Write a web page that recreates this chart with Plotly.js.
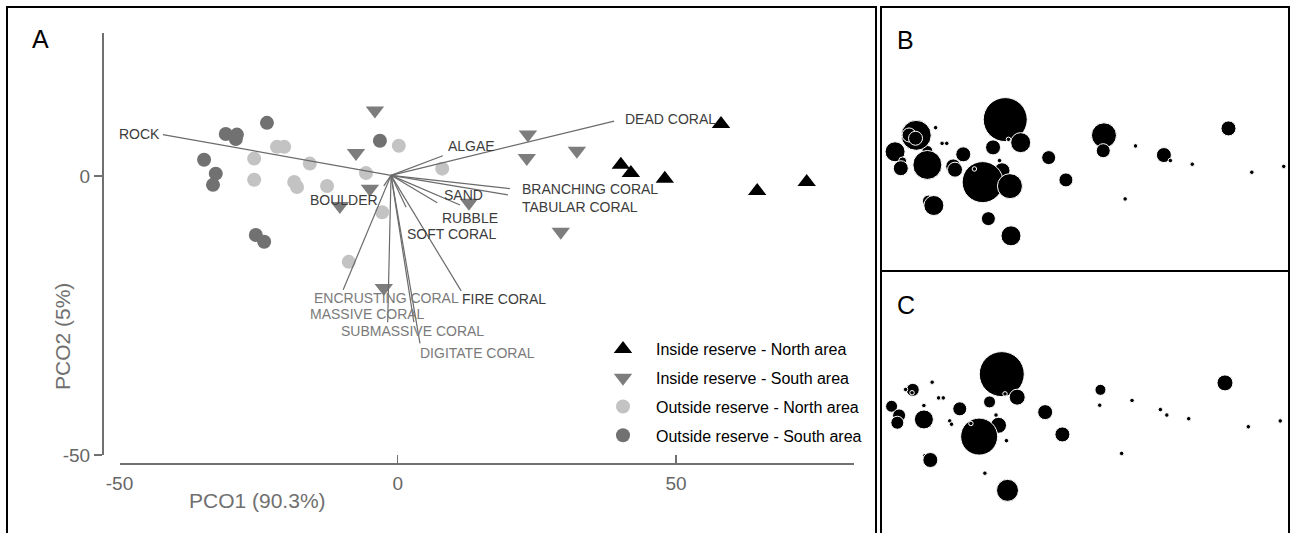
<!DOCTYPE html>
<html><head><meta charset="utf-8">
<script src="https://cdn.plot.ly/plotly-3.0.1.min.js"></script>
<style>html,body{margin:0;padding:0;background:#fff}</style>
</head><body><div id="chart" style="width:1290px;height:533px"></div>
<script>
// ---------- DATA ----------
const groupNames = ['Inside reserve - North area','Inside reserve - South area','Outside reserve - North area','Outside reserve - South area'];

// Inside reserve - North area (PCO1, PCO2) + bubble sizes for panels B and C
const inNorthX = [58.1, 40.1, 41.9, 48.0, 64.6, 73.5];
const inNorthY = [9.3, 2.0, 0.5, -0.5, -2.7, -1.1];
const inNorthB = [15, 15, 4.5, 4.5, 4.5, 4.5];
const inNorthC = [16, 4.5, 4.5, 4.5, 4.5, 4.5];

// Inside reserve - South area
const inSouthX = [-4.1, -7.5, -5.0, -10.4, 23.4, 23.2, 32.2, 12.8, 29.3, -2.5];
const inSouthY = [11.7, 4.1, -2.3, -5.4, 7.4, 3.2, 4.5, -4.8, -10.0, -20.1];
const inSouthB = [44, 15, 16, 41, 25, 14, 4.5, 14, 4.5, 20];
const inSouthC = [45, 12, 16, 37, 11, 4.5, 4.5, 15, 4.5, 22];

// Outside reserve - North area
const outNorthX = [-25.8, -21.7, -20.4, -15.8, -25.8, -18.6, -18.1, -12.7, -5.7, 0.2, -2.8, -8.8, 8.0];
const outNorthY = [3.1, 5.2, 5.2, 2.2, -0.7, -1.1, -2.0, -1.8, 0.5, 5.4, -6.5, -15.4, 1.3];
const outNorthB = [11, 4.5, 4.5, 15, 29, 15, 15, 4.5, 4.5, 20, 25, 14, 14];
const outNorthC = [4.5, 4.5, 4.5, 14, 19, 4.5, 4.5, 4.5, 4.5, 16, 4.5, 4.5, 15];

// Outside reserve - South area
const outSouthX = [-28.9, -23.5, -30.9, -29.1, -34.8, -32.7, -33.2, -25.5, -24.0, -3.2];
const outSouthY = [7.4, 9.5, 7.5, 6.6, 2.9, 0.4, -1.6, -10.6, -11.8, 6.3];
const outSouthB = [30, 4.5, 14, 14, 20, 8, 15, 12, 20, 4.5];
const outSouthC = [13, 4.5, 4.5, 4.5, 12, 13, 13, 4.5, 15, 4.5];

// Biplot vectors
const vectorOrigin = [-1.2, 0.1];
const vectorNames = ['ROCK','DEAD CORAL','ALGAE','BRANCHING CORAL','TABULAR CORAL','SAND','RUBBLE','SOFT CORAL','BOULDER','FIRE CORAL','ENCRUSTING CORAL','MASSIVE CORAL','SUBMASSIVE CORAL','DIGITATE CORAL'];
const vectorX = [-42.2, 38.9, 8.1, 20.2, 19.8, 7.1, 11.2, 1.5, -2.5, 11.4, -9.8, -1.8, 2.9, 4.0];
const vectorY = [7.4, 9.8, 3.6, -2.3, -3.4, -4.8, -5.2, -5.6, -1.8, -20.6, -20.4, -26.2, -26.2, -30.0];

// Axis ticks and titles
const xTickVals = [-50, 0, 50];
const xTickText = ['-50', '0', '50'];
const yTickVals = [-50, 0];
const yTickText = ['-50', '0'];
const xTitle = 'PCO1 (90.3%)';
const yTitle = 'PCO2 (5%)';
const panelLetters = ['A', 'B', 'C'];

// ---------- STYLE ----------
const W = 1290, H = 533;
const px = v => v / W;
const py = v => 1 - v / H;
const SANS = '"Liberation Sans", Arial, sans-serif';

const groups = [
  {x: inNorthX, y: inNorthY, b: inNorthB, c: inNorthC, symbol: 'triangle-up', color: '#000000', size: 16},
  {x: inSouthX, y: inSouthY, b: inSouthB, c: inSouthC, symbol: 'triangle-down', color: '#7d7d7d', size: 16},
  {x: outNorthX, y: outNorthY, b: outNorthB, c: outNorthC, symbol: 'circle', color: '#c3c3c3', size: 14},
  {x: outSouthX, y: outSouthY, b: outSouthB, c: outSouthC, symbol: 'circle', color: '#717171', size: 14}
];

// label placement offsets (pixels) relative to vector end
const labelStyle = [
  ['right', -1, 1, '#3c3c3c'],
  ['left', 9, 2, '#3c3c3c'],
  ['left', 3, 10, '#3c3c3c'],
  ['left', 10, 0, '#3c3c3c'],
  ['left', 12, -12, '#3c3c3c'],
  ['left', 5, 8, '#3c3c3c'],
  ['left', -20, -13, '#3c3c3c'],
  ['left', -1, -27, '#3c3c3c'],
  ['right', -4, -14, '#3c3c3c'],
  ['left', -1, -8, '#3c3c3c'],
  ['left', -31, -8, '#7a7a7a'],
  ['left', -80, 8, '#7a7a7a'],
  ['left', -75, -9, '#7a7a7a'],
  ['left', -2, -10, '#7a7a7a']
];

const traces = [];
groups.forEach((g, i) => {
  traces.push({
    type: 'scatter', mode: 'markers', x: g.x, y: g.y, xaxis: 'x', yaxis: 'y',
    name: groupNames[i], showlegend: true, hoverinfo: 'skip', legendgroup: 'g' + i,
    marker: {symbol: g.symbol, color: g.color, size: g.size, opacity: 1, line: {width: 0}}
  });
});
// vectors
const vx = [], vy = [];
vectorX.forEach((x, i) => { vx.push(vectorOrigin[0], x, null); vy.push(vectorOrigin[1], vectorY[i], null); });
traces.push({type: 'scatter', mode: 'lines', x: vx, y: vy, xaxis: 'x', yaxis: 'y', showlegend: false,
  hoverinfo: 'skip', line: {color: '#6b6b6b', width: 1.2}});
// bubbles B and C
[['x2','y2','b'], ['x3','y3','c']].forEach(([xa, ya, key]) => {
  groups.forEach((g, i) => {
    traces.push({
      type: 'scatter', mode: 'markers', x: g.x, y: g.y, xaxis: xa, yaxis: ya,
      showlegend: false, hoverinfo: 'skip', name: groupNames[i],
      marker: {symbol: 'circle', color: '#000000', opacity: 1, size: g[key], sizemode: 'diameter',
        line: {color: '#ffffff', width: 1}}
    });
  });
});

const annotations = [];
vectorNames.forEach((n, i) => {
  const s = labelStyle[i];
  annotations.push({x: vectorX[i], y: vectorY[i], xref: 'x', yref: 'y', text: n, showarrow: false,
    xanchor: s[0], yanchor: 'middle', xshift: s[1], yshift: s[2],
    font: {family: SANS, size: 14, color: s[3]}});
});
annotations.push({x: px(257), y: py(500), xref: 'paper', yref: 'paper', text: xTitle, showarrow: false,
  xanchor: 'center', yanchor: 'middle', font: {family: SANS, size: 21, color: '#707070'}});
annotations.push({x: px(62), y: py(337), xref: 'paper', yref: 'paper', text: yTitle, showarrow: false,
  textangle: -90, xanchor: 'center', yanchor: 'middle', font: {family: SANS, size: 21, color: '#707070'}});
[[40, 39], [905, 40], [906, 305]].forEach((p, i) => {
  annotations.push({x: px(p[0]), y: py(p[1]), xref: 'paper', yref: 'paper', text: panelLetters[i], showarrow: false,
    xanchor: 'center', yanchor: 'middle', font: {family: SANS, size: 25, color: '#000'}});
});

const box = (x0, y0, x1, y1) => ({type: 'rect', xref: 'paper', yref: 'paper', x0: px(x0), x1: px(x1), y0: py(y1), y1: py(y0),
  line: {color: '#000', width: 2}, fillcolor: 'rgba(0,0,0,0)', layer: 'above'});

const tickFont = {family: SANS, size: 19, color: '#666666'};
const layout = {
  width: W, height: H, margin: {l: 0, r: 0, t: 0, b: 0},
  paper_bgcolor: '#ffffff', plot_bgcolor: 'rgba(0,0,0,0)',
  showlegend: true,
  legend: {x: px(590), y: py(332), xanchor: 'left', yanchor: 'top', bgcolor: 'rgba(0,0,0,0)',
    font: {family: SANS, size: 16, color: '#000'}, itemwidth: 56, traceorder: 'grouped', tracegroupgap: 5},
  xaxis: {domain: [px(119.5), px(854)], range: [-50, 82], anchor: 'free', position: py(463),
    showline: true, linecolor: '#707070', linewidth: 1.5, ticks: 'inside', ticklen: 8, tickwidth: 1.5, tickcolor: '#707070',
    tickvals: xTickVals, ticktext: xTickText, tickfont: tickFont, ticklabelstandoff: 3,
    showgrid: false, zeroline: false, fixedrange: true},
  yaxis: {domain: [py(455), py(33)], range: [-50, 25.6], anchor: 'free', position: px(102),
    showline: true, linecolor: '#707070', linewidth: 1.5, ticks: 'outside', ticklen: 8, tickwidth: 1.5, tickcolor: '#707070',
    tickvals: yTickVals, ticktext: yTickText, tickfont: tickFont,
    showgrid: false, zeroline: false, fixedrange: true},
  xaxis2: {domain: [px(881), px(1289)], range: [-38.72, 74.96], anchor: 'y2', visible: false, fixedrange: true},
  yaxis2: {domain: [py(270), py(8)], range: [-29.45, 42.24], anchor: 'x2', visible: false, fixedrange: true},
  xaxis3: {domain: [px(881), px(1289)], range: [-37.75, 75.94], anchor: 'y3', visible: false, fixedrange: true},
  yaxis3: {domain: [py(533), py(272)], range: [-31.77, 39.64], anchor: 'x3', visible: false, fixedrange: true},
  shapes: [box(7, 7, 876, 545), box(881, 7, 1289, 271), box(881, 271, 1289, 545)],
  annotations: annotations
};

Plotly.newPlot('chart', traces, layout, {displayModeBar: false, staticPlot: true});
</script>
</body></html>
